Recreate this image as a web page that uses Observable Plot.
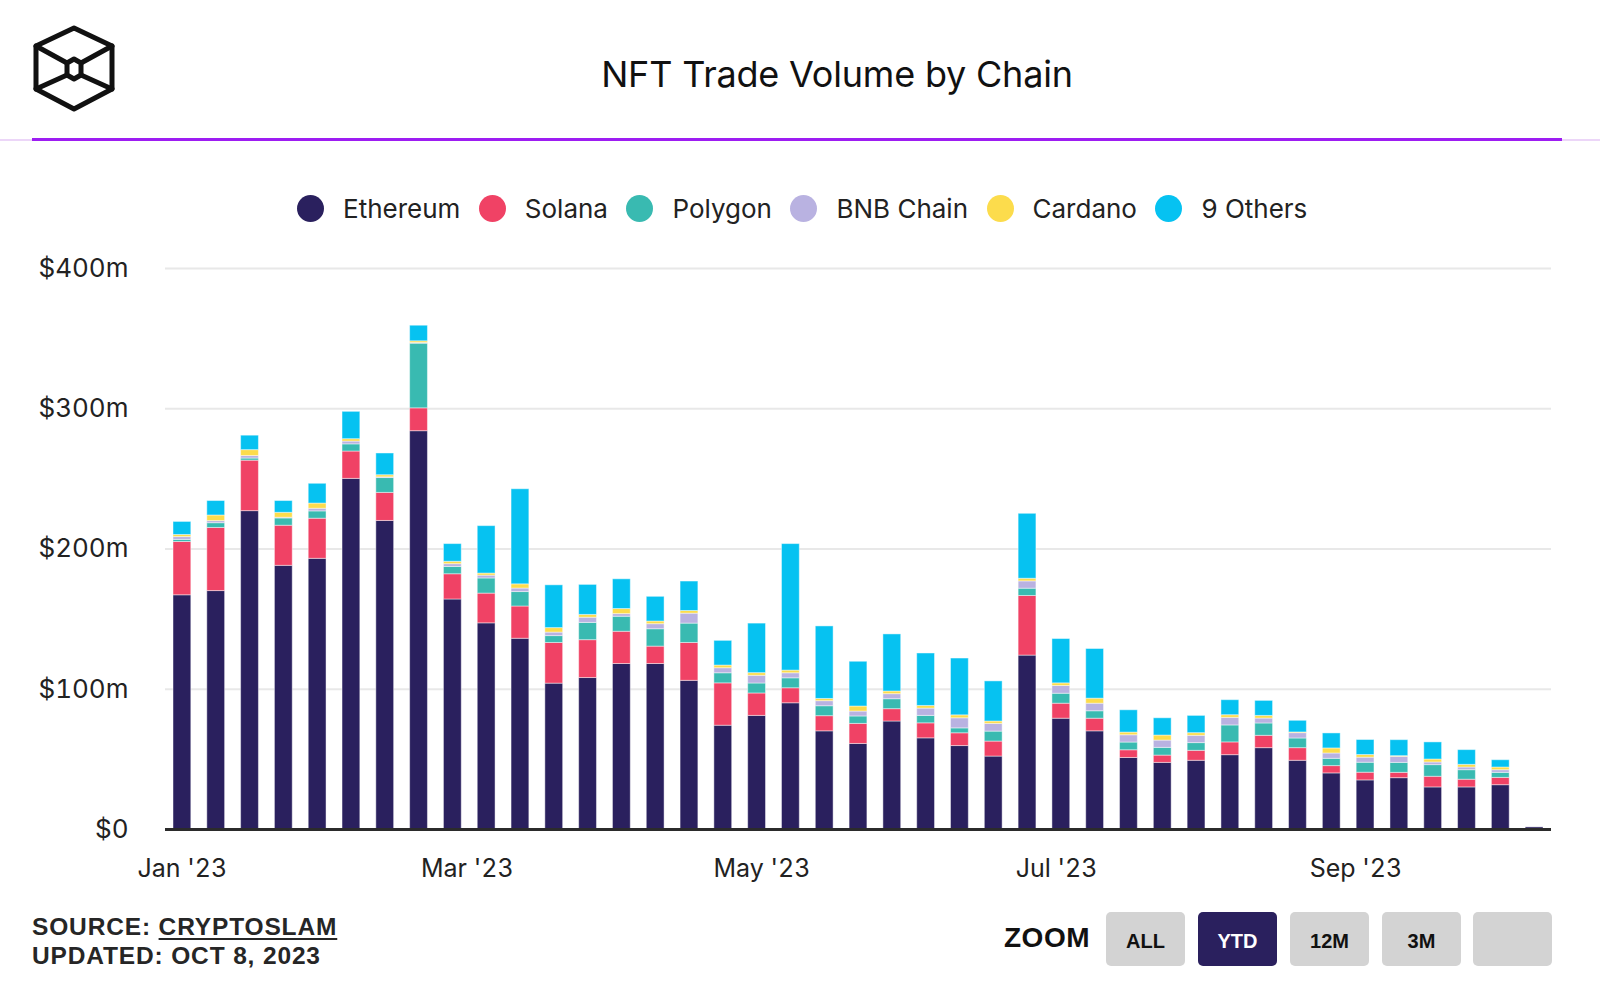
<!DOCTYPE html>
<html>
<head>
<meta charset="utf-8">
<script src="https://cdn.jsdelivr.net/npm/d3@7"></script>
<script src="https://cdn.jsdelivr.net/npm/@observablehq/plot@0.6"></script>
<style>
  body { margin: 0; background: #fff; }
  #page { position: relative; width: 1600px; height: 994px; overflow: hidden; font-family: Inter, "Noto Sans", sans-serif; background: #fff; }
  #title { position: absolute; top: 52px; left: 837px; transform: translateX(-50%); font-size: 36px; color: #111; white-space: nowrap; letter-spacing: -0.2px; }
  #rule-light { position: absolute; top: 139px; left: 0; width: 1600px; height: 2px; background: #ecd6f8; }
  #rule-purple { position: absolute; top: 138px; left: 32px; width: 1530px; height: 3px; background: #9d1df2; }
  #legend { position: absolute; top: 193px; left: 297px; display: flex; align-items: center; font-size: 26px; color: #222; white-space: nowrap; }
  .li { display: flex; align-items: center; margin-right: 18.5px; }
  .sw { width: 27px; height: 27px; border-radius: 50%; margin-right: 19px; }
  #chart { position: absolute; top: 240px; left: 0; }
  #src { position: absolute; left: 32px; top: 912px; font-family: "Liberation Sans", Arial, sans-serif; font-weight: bold; font-size: 24.5px; letter-spacing: 0.85px; line-height: 29px; color: #262626; }
  #src u { text-decoration-thickness: 2px; text-underline-offset: 3px; }
  #zoomlbl { position: absolute; left: 1004px; top: 922px; font-family: "Liberation Sans", Arial, sans-serif; font-weight: bold; font-size: 28px; letter-spacing: 0.5px; color: #111; }
  .btn { position: absolute; top: 912px; width: 79px; height: 54px; border-radius: 5px; background: #d3d3d3; font-family: "Liberation Sans", Arial, sans-serif; font-weight: bold; font-size: 20px; color: #111; display: flex; align-items: center; justify-content: center; padding-top: 5px; box-sizing: border-box; }
  .btn.on { background: #2a205e; color: #fff; }
</style>
</head>
<body>
<div id="page">
  <svg id="logo" width="150" height="140" style="position:absolute;left:0;top:0" viewBox="0 0 150 140">
    <g fill="none" stroke="#111" stroke-width="5" stroke-linejoin="round" stroke-linecap="round">
      <polygon points="74,28 112,46 112,89 74,109 36,89 36,46"/>
      <polygon points="74,59 81,63 81,75 74,79 67,75 67,63"/>
      <line x1="36" y1="46" x2="67" y2="63"/>
      <line x1="112" y1="46" x2="81" y2="63"/>
      <line x1="36" y1="89" x2="67" y2="75"/>
      <line x1="112" y1="89" x2="81" y2="75"/>
    </g>
  </svg>
  <div id="title">NFT Trade Volume by Chain</div>
  <div id="rule-light"></div>
  <div id="rule-purple"></div>
  <div id="legend"></div>
  <div id="chart"></div>
  <div id="src">SOURCE: <u>CRYPTOSLAM</u><br>UPDATED: OCT 8, 2023</div>
  <div id="zoomlbl">ZOOM</div>
  <div id="buttons"></div>
</div>
<script>
// ---- Data (US$ millions, weekly) ----
const weeks = ["2023-01-01","2023-01-08","2023-01-15","2023-01-22","2023-01-29","2023-02-05","2023-02-12","2023-02-19","2023-02-26","2023-03-05",
  "2023-03-12","2023-03-19","2023-03-26","2023-04-02","2023-04-09","2023-04-16","2023-04-23","2023-04-30","2023-05-07","2023-05-14",
  "2023-05-21","2023-05-28","2023-06-04","2023-06-11","2023-06-18","2023-06-25","2023-07-02","2023-07-09","2023-07-16","2023-07-23",
  "2023-07-30","2023-08-06","2023-08-13","2023-08-20","2023-08-27","2023-09-03","2023-09-10","2023-09-17","2023-09-24","2023-10-01","2023-10-08"];
const ethereum = [167,170,227,188,193,250,220,284,164,147, 136,104,108,118,118,106,74,81,90,70, 61,77,65,59.5,52,124,79,70,51,47.5, 49,53,58,49,40,35,36.6,30,30,31.6, 1.5];
const solana   = [38,45,36,28.6,28.6,19.5,20,16.3,18,21.2, 23,29,27,23,12.4,27,30.2,16,10.7,10.8, 14.3,8.8,10.7,9.1,10.7,42.5,10.7,9,5.5,5.2, 7.1,9.1,8.8,9,5.2,5.5,3.8,7.6,5.5,5.2, 0];
const polygon  = [1.5,3.4,1.5,5.2,5.2,5.1,10.6,46.1,5.2,10.8, 10.3,4.9,12.3,10.7,12.4,13.8,7.2,7.1,7.1,7.1, 5.3,7.1,5.3,3.5,7.1,5.2,7.1,5.3,5.5,5.5, 5.5,12.1,8.8,6.9,5.2,7.1,7.1,8.3,6.8,3.6, 0];
const bnbChain = [2,1.5,1.8,0.5,1.9,2,0.5,0.5,2,2, 2.5,2.5,3.7,1.9,3.6,7.1,3.6,5.5,3.6,3.6, 3.5,3.6,5.2,7.2,5.5,5.2,5.5,5.4,5.2,5.2, 5.2,5.4,3.5,3.8,3.8,3.6,4.3,1.9,1.9,1.9, 0];
const cardano  = [1.5,4,4.2,3.5,3.7,1.7,1.5,1.2,1.7,1.5, 3,3.2,2,3.6,1.9,1.9,1.9,1.9,1.9,1.6, 3.6,1.9,1.9,2.1,1.7,1.9,1.9,3.6,1.9,3.6, 1.9,1.9,1.9,0.5,3.6,1.9,0.5,2.1,1.9,1.9, 0];
const others   = [9.3,10.3,10.3,8.4,14.1,19.5,15.5,11.1,12.6,33.8, 67.8,30.5,21.4,21.2,17.6,21,17.6,35.3,90.2,51.7, 31.9,40.7,37.4,40.5,28.6,46.3,31.6,35.4,15.9,12.3, 12.3,10.7,10.7,8.3,10.7,10.7,11.4,12.2,10.5,5.2, 0];

const seriesNames  = ["Ethereum","Solana","Polygon","BNB Chain","Cardano","9 Others"];
const seriesValues = [ethereum, solana, polygon, bnbChain, cardano, others];
const seriesColors = ["#2a205e","#f04265","#39bab1","#b9b2e1","#fcdc4c","#06c2f1"];

const yTicks = [0, 100, 200, 300, 400];
const yTickLabels = ["$0","$100m","$200m","$300m","$400m"];
const xTickDates = ["2023-01-01","2023-03-01","2023-05-01","2023-07-01","2023-09-01"];
const xTickLabels = ["Jan '23","Mar '23","May '23","Jul '23","Sep '23"];
const zoomButtons = ["ALL","YTD","12M","3M",""];
const activeButton = "YTD";

// ---- Build table ----
const DAY = 864e5;
const weekDates = weeks.map(s => new Date(s + "T00:00:00Z"));
const weekX1 = weekDates.map(d => new Date(+d - 3.5 * DAY));
const weekX2 = weekDates.map(d => new Date(+d + 3.5 * DAY));
const rows = [];
seriesNames.forEach((name, s) => {
  seriesValues[s].forEach((v, i) => rows.push({series: name, x1: weekX1[i], x2: weekX2[i], value: v}));
});
const xTicks = xTickDates.map(s => new Date(s + "T00:00:00Z"));

// ---- Legend ----
const legend = document.getElementById("legend");
seriesNames.forEach((n, i) => {
  const item = document.createElement("div");
  item.className = "li";
  const sw = document.createElement("div");
  sw.className = "sw";
  sw.style.background = seriesColors[i];
  const t = document.createElement("span");
  t.textContent = n;
  item.appendChild(sw); item.appendChild(t);
  legend.appendChild(item);
});

// ---- Buttons ----
const btnLefts = [1106, 1198, 1290, 1382, 1473];
const bdiv = document.getElementById("buttons");
zoomButtons.forEach((b, i) => {
  const el = document.createElement("div");
  el.className = "btn" + (b === activeButton ? " on" : "");
  el.style.left = btnLefts[i] + "px";
  el.textContent = b;
  bdiv.appendChild(el);
});

// ---- Chart ----
const chart = Plot.plot({
  width: 1600,
  height: 650,
  marginLeft: 165,
  marginRight: 49,
  marginTop: 28,
  marginBottom: 61,
  style: {fontFamily: "Inter, 'Noto Sans', sans-serif", fontSize: "25px", color: "#222", background: "transparent"},
  x: {type: "utc", domain: [weekX1[0], weekX2[weekX2.length - 1]]},
  y: {domain: [0, 400]},
  color: {domain: seriesNames, range: seriesColors},
  marks: [
    Plot.gridY(yTicks, {stroke: "#e8e8e8", strokeOpacity: 1, strokeWidth: 2}),
    Plot.rectY(rows, {
      x1: "x1", x2: "x2", y: "value", fill: "series", order: seriesNames,
      insetLeft: 8, insetRight: 8,
      stroke: "#ffffff", strokeOpacity: 0.45, strokeWidth: 1
    }),
    Plot.ruleY([0], {stroke: "#2b2b2b", strokeWidth: 3}),
    Plot.axisX(xTicks, {tickSize: 0, tickPadding: 30, tickFormat: d => xTickLabels[xTicks.findIndex(t => +t === +d)], label: null, fill: "#222"}),
    Plot.axisY(yTicks, {tickSize: 0, tickPadding: 37, fontSize: 26, tickFormat: d => yTickLabels[yTicks.indexOf(d)], label: null, fill: "#222"})
  ]
});
document.getElementById("chart").appendChild(chart);
</script>
</body>
</html>
